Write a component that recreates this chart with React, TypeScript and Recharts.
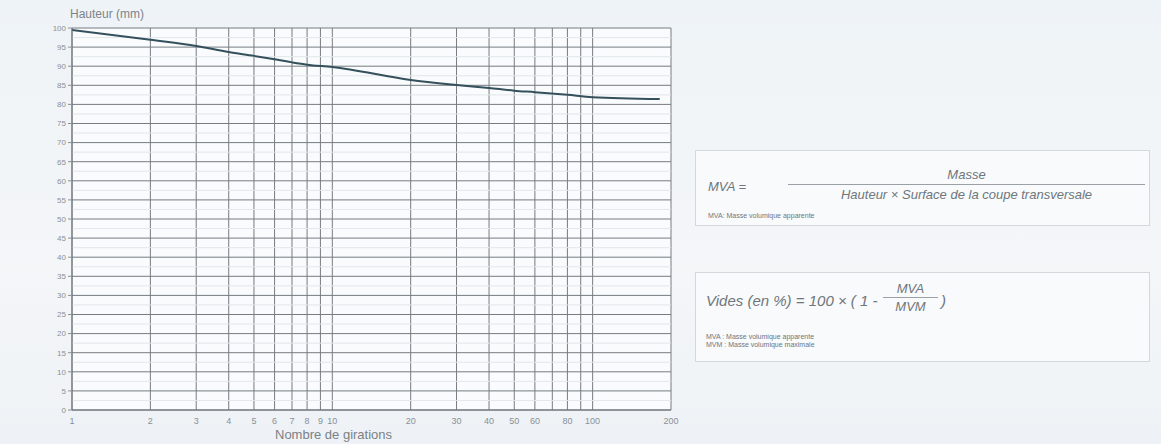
import React from "react";
import { LineChart, Line, XAxis, YAxis, CartesianGrid, ReferenceLine } from "recharts";

const girations = [1, 2, 3, 4, 5, 6, 7, 8, 10, 20, 30, 40, 50, 60, 80, 100, 181];
const hauteur = [99.5, 96.9, 95.3, 93.7, 92.7, 91.8, 91.0, 90.4, 89.8, 86.4, 85.1, 84.3, 83.6, 83.2, 82.5, 81.9, 81.4];

const xTicks = [1, 2, 3, 4, 5, 6, 7, 8, 9, 10, 20, 30, 40, 50, 60, 70, 80, 90, 100, 200];
const hiddenXLabels = [70, 90];
const yTicks = [0, 5, 10, 15, 20, 25, 30, 35, 40, 45, 50, 55, 60, 65, 70, 75, 80, 85, 90, 95, 100];
const yMinor = [2.5, 7.5, 12.5, 17.5, 22.5, 27.5, 32.5, 37.5, 42.5, 47.5, 52.5, 57.5, 62.5, 67.5, 72.5, 77.5, 82.5, 87.5, 92.5, 97.5];

const data = girations.map((g, i) => ({ g, h: hauteur[i] }));

const FONT = "'Liberation Sans', Arial, sans-serif";
const GREY = "#8a9096";

const box: React.CSSProperties = {
  position: "absolute",
  left: 695,
  width: 455,
  border: "1px solid #d3d8dc",
  background: "#f8fafb",
  boxSizing: "border-box",
  fontFamily: FONT,
  color: "#6f767c",
};

export default function App() {
  return (
    <div
      style={{
        position: "absolute",
        left: 0,
        top: 0,
        width: 1161,
        height: 444,
        background: "linear-gradient(180deg, #eef3f7 0%, #f4f6f8 60%, #eef2f6 100%)",
        fontFamily: FONT,
        overflow: "hidden",
      }}
    >
      <div style={{ position: "absolute", left: 70, top: 7, fontSize: 12, color: "#7d848a" }}>Hauteur (mm)</div>
      <div style={{ position: "absolute", left: 72, top: 28, width: 599, height: 382, background: "#f9fbfc" }} />
      <div style={{ position: "absolute", left: 0, top: 0 }}>
        <LineChart width={700} height={444} data={data} margin={{ top: 28, right: 29, left: 22, bottom: 0 }}>
          <CartesianGrid stroke="#767c81" strokeWidth={1} horizontalValues={yTicks} verticalValues={xTicks} />
          {yMinor.map((v) => (
            <ReferenceLine key={v} y={v} stroke="#e2e7ea" strokeWidth={1} ifOverflow="hidden" />
          ))}
          <XAxis
            dataKey="g"
            type="number"
            scale="log"
            domain={[1, 200]}
            ticks={xTicks}
            allowDataOverflow
            height={34}
            tickLine={false}
            axisLine={{ stroke: "#6d7378" }}
            tick={{ fontSize: 9, fill: GREY, fontFamily: FONT }}
            tickFormatter={(v: number) => (hiddenXLabels.includes(v) ? "" : String(v))}
            interval={0}
          />
          <YAxis
            type="number"
            domain={[0, 100]}
            ticks={yTicks}
            interval={0}
            width={50}
            tickSize={4}
            tickLine={{ stroke: GREY }}
            axisLine={{ stroke: "#6d7378" }}
            tick={{ fontSize: 8, fill: GREY, fontFamily: FONT }}
          />
          <Line
            type="monotone"
            dataKey="h"
            stroke="#34505c"
            strokeWidth={2}
            dot={false}
            isAnimationActive={false}
          />
        </LineChart>
      </div>
      <div style={{ position: "absolute", left: 275, top: 427, fontSize: 13, color: "#7a8187", whiteSpace: "nowrap" }}>
        Nombre de girations
      </div>

      <div style={{ ...box, top: 150, height: 76 }}>
        <div style={{ position: "absolute", left: 12, top: 28, fontSize: 13, fontStyle: "italic" }}>MVA =</div>
        <div style={{ position: "absolute", left: 92, right: 4, top: 16, fontSize: 13, fontStyle: "italic", textAlign: "center" }}>
          <div style={{ borderBottom: "1px solid #9aa0a5", paddingBottom: 2 }}>Masse</div>
          <div style={{ paddingTop: 2 }}>Hauteur × Surface de la coupe transversale</div>
        </div>
        <div style={{ position: "absolute", left: 12, top: 61, fontSize: 7 }}>MVA: Masse volumique apparente</div>
      </div>

      <div style={{ ...box, top: 272, height: 90 }}>
        <div style={{ position: "absolute", left: 10, top: 19, fontSize: 15, fontStyle: "italic", whiteSpace: "nowrap" }}>
          Vides (en %) = 100 × ( 1 -
        </div>
        <div style={{ position: "absolute", left: 187, width: 55, top: 8, fontSize: 13, fontStyle: "italic", textAlign: "center" }}>
          <div style={{ borderBottom: "1px solid #9aa0a5", paddingBottom: 1 }}>MVA</div>
          <div style={{ paddingTop: 1 }}>MVM</div>
        </div>
        <div style={{ position: "absolute", left: 245, top: 19, fontSize: 15, fontStyle: "italic" }}>)</div>
        <div style={{ position: "absolute", left: 10, top: 60, fontSize: 7, lineHeight: "8px" }}>
          MVA : Masse volumique apparente
          <br />
          MVM : Masse volumique maximale
        </div>
      </div>
    </div>
  );
}
